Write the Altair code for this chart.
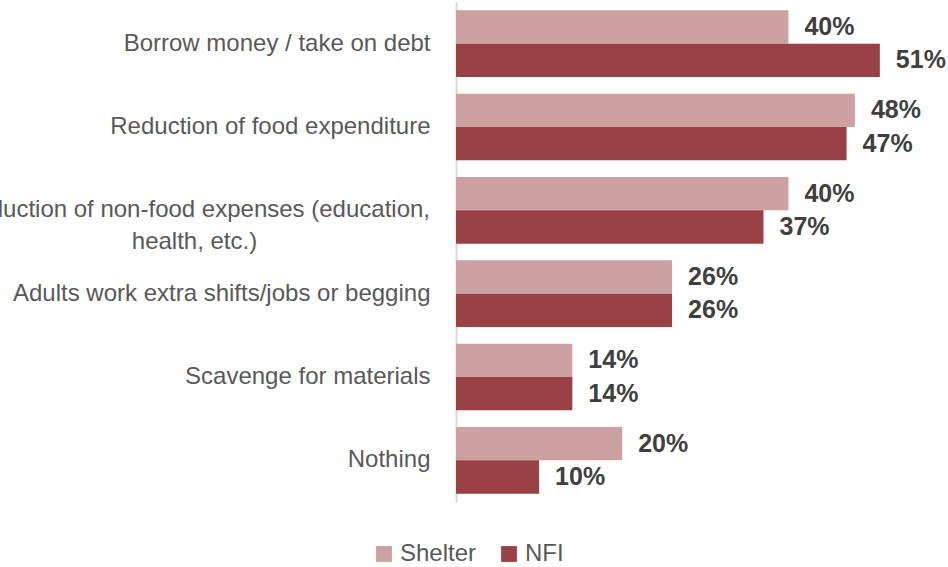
import altair as alt
import pandas as pd

categories = [
    "Borrow money / take on debt",
    "Reduction of food expenditure",
    "Reduction of non-food expenses (education, health, etc.)",
    "Adults work extra shifts/jobs or begging",
    "Scavenge for materials",
    "Nothing",
]
shelter = [40, 48, 40, 26, 14, 20]
nfi = [51, 47, 37, 26, 14, 10]
series = ["Shelter", "NFI"]
colors = ["#CDA0A1", "#9A4145"]

rows = []
for cat, s, n in zip(categories, shelter, nfi):
    rows.append({"category": cat, "series": "Shelter", "value": s / 100})
    rows.append({"category": cat, "series": "NFI", "value": n / 100})
df = pd.DataFrame(rows)

FONT = "Liberation Sans, Arial, sans-serif"
long_label = categories[2]

y_enc = alt.Y(
    "category:N",
    sort=categories,
    title=None,
    scale=alt.Scale(paddingInner=0.2, paddingOuter=0.1),
    axis=alt.Axis(
        domainColor="#D9D9D9",
        domainWidth=2,
        ticks=False,
        labelFont=FONT,
        labelFontSize=24,
        labelColor="#595959",
        labelLimit=1000,
        labelLineHeight=32,
        labelAlign={"condition": {"test": f"datum.value == '{long_label}'", "value": "center"}, "value": "right"},
        labelPadding={"condition": {"test": f"datum.value == '{long_label}'", "value": 262}, "value": 26},
        labelExpr=(
            f"datum.value == '{long_label}' ? "
            "['Reduction of non-food expenses (education,', 'health, etc.)'] : datum.label"
        ),
    ),
)

base = alt.Chart(df).encode(
    y=y_enc,
    yOffset=alt.YOffset("series:N", sort=series),
    x=alt.X("value:Q", scale=alt.Scale(domain=[0, 0.58]), axis=None),
)

bars = base.mark_bar().encode(
    color=alt.Color(
        "series:N",
        sort=series,
        scale=alt.Scale(domain=series, range=colors),
        legend=alt.Legend(
            title=None,
            orient="none",
            direction="horizontal",
            legendX=-84,
            legendY=540,
            symbolType="square",
            symbolSize=250,
            symbolStrokeWidth=0,
            labelFont=FONT,
            labelFontSize=24,
            labelColor="#595959",
            columnPadding=20,
            labelOffset=4,
        ),
    )
)

labels = base.mark_text(
    align="left", baseline="middle", dx=16, font=FONT, fontSize=25,
    fontWeight="bold", color="#404040",
).encode(text=alt.Text("value:Q", format=".0%"))

chart = (
    (bars + labels)
    .properties(
        width=482,
        height=500,
        autosize=alt.AutoSizeParams(type="none"),
        padding={"left": 456, "top": 2, "right": 10, "bottom": 65},
    )
    .configure_view(stroke=None)
    .configure_scale(bandWithNestedOffsetPaddingInner=0, bandWithNestedOffsetPaddingOuter=0)
)

chart.save("out.html", embed_options={"renderer": "svg", "actions": False})
